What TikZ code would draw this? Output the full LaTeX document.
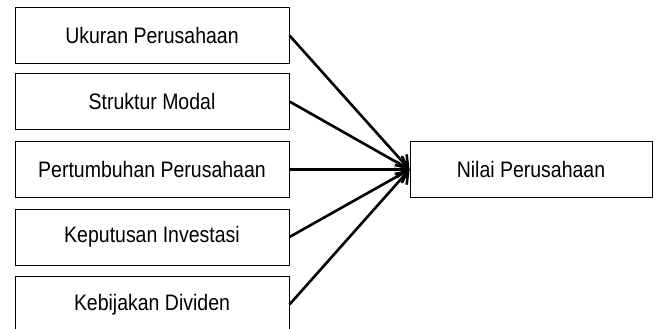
\documentclass[tikz,border=0pt]{standalone}
\usepackage{fontspec}
\setmainfont[FakeStretch=0.87]{Liberation Sans}
\usetikzlibrary{arrows.meta}
\begin{document}
\begin{tikzpicture}[x=1pt,y=-1pt,
  varbox/.style={draw, line width=1pt, minimum width=274pt, minimum height=56pt,
    inner sep=0pt, font=\fontsize{22.4}{25}\selectfont},
  resbox/.style={varbox, minimum width=242pt},
  link/.style={line width=2.6pt, -{Straight Barb[length=11pt,width=16pt,line width=2.6pt]}}]
  \useasboundingbox (0,0) rectangle (657,329);
  % independent variables
  \node[varbox] (u) at (152,35.5) {Ukuran Perusahaan};
  \node[varbox] (s) at (152,101.5) {Struktur Modal};
  \node[varbox] (p) at (152,169.5) {Pertumbuhan Perusahaan};
  \node[varbox] (k) at (152,237) {Keputusan Investasi};
  \node[varbox] (d) at (152,304.5) {Kebijakan Dividen};
  % dependent variable
  \node[resbox] (n) at (531,169.5) {Nilai Perusahaan};
  % influence arrows
  \foreach \v in {u,s,p,k,d}
    \draw[link] (\v.east) -- (n.west);
\end{tikzpicture}
\end{document}
